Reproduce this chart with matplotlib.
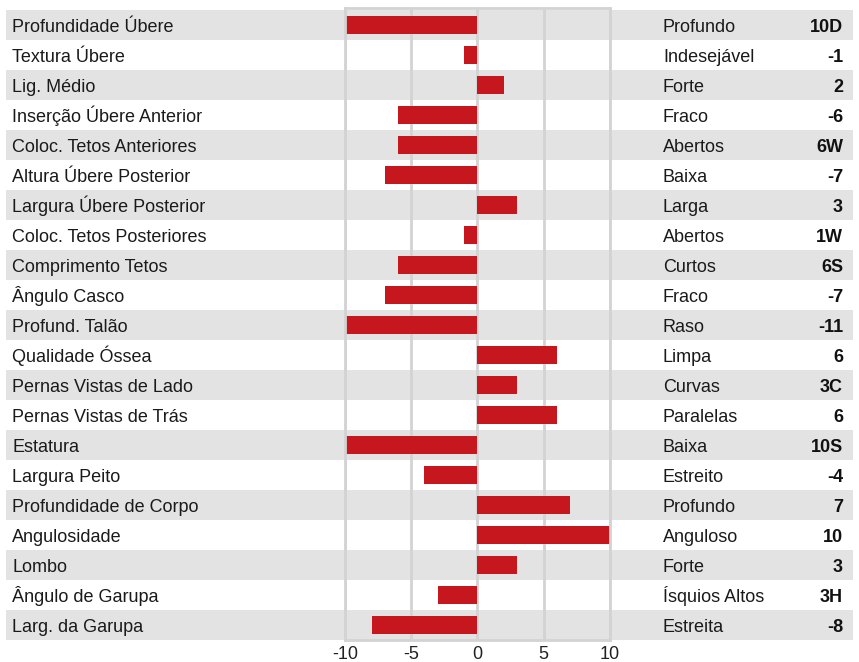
import matplotlib.pyplot as plt
from matplotlib.transforms import blended_transform_factory

plt.rcParams["font.family"] = "Liberation Sans"
plt.rcParams["axes.unicode_minus"] = False

# características lineares
traits = [
    "Profundidade Úbere", "Textura Úbere", "Lig. Médio", "Inserção Úbere Anterior",
    "Coloc. Tetos Anteriores", "Altura Úbere Posterior", "Largura Úbere Posterior",
    "Coloc. Tetos Posteriores", "Comprimento Tetos", "Ângulo Casco", "Profund. Talão",
    "Qualidade Óssea", "Pernas Vistas de Lado", "Pernas Vistas de Trás", "Estatura",
    "Largura Peito", "Profundidade de Corpo", "Angulosidade", "Lombo",
    "Ângulo de Garupa", "Larg. da Garupa",
]
descr = [
    "Profundo", "Indesejável", "Forte", "Fraco", "Abertos", "Baixa", "Larga",
    "Abertos", "Curtos", "Fraco", "Raso", "Limpa", "Curvas", "Paralelas", "Baixa",
    "Estreito", "Profundo", "Anguloso", "Forte", "Ísquios Altos", "Estreita",
]
scores = ["10D", "-1", "2", "-6", "6W", "-7", "3", "1W", "6S", "-7", "-11",
          "6", "3C", "6", "10S", "-4", "7", "10", "3", "3H", "-8"]
# valores das barras (com sinal)
values = [-10, -1, 2, -6, -6, -7, 3, -1, -6, -7, -11,
          6, 3, 6, -10, -4, 7, 10, 3, -3, -8]

W, H = 859, 662
fig = plt.figure(figsize=(W / 100, H / 100), dpi=100)
ax = fig.add_axes([345 / W, 1 - 640 / H, 265 / W, 632 / H])

n = len(traits)
y = list(range(n))

# faixas alternadas
x0 = (6 - 345) / 265
x1 = (853 - 345) / 265
for i in y:
    if i % 2 == 0:
        ax.axhspan(i - 0.5, i + 0.5, xmin=x0, xmax=x1, color="#e3e3e3",
                   lw=0, zorder=0, clip_on=False)

clipped = [max(-10, min(10, v)) for v in values]
ax.barh(y, clipped, height=0.6, color="#c6161e", zorder=2)

ax.set_xlim(-10, 10)
ax.set_ylim(n - 0.5, -0.57)
ax.set_xticks([-10, -5, 0, 5, 10])
ax.set_yticks([])
ax.set_facecolor("none")
ax.grid(axis="x", color="#d3d3d3", lw=2)
ax.set_axisbelow(True)
for s in ax.spines.values():
    s.set_color("#d3d3d3")
    s.set_linewidth(2)
ax.tick_params(axis="x", length=0, pad=4, labelsize=13, labelcolor="#222222")

tr = blended_transform_factory(fig.transFigure, ax.transData)
for i in y:
    yb = i + 0.22
    ax.text(12 / W, yb, traits[i], transform=tr, ha="left",
            va="baseline", fontsize=13, color="#1a1a1a")
    ax.text(663 / W, yb, descr[i], transform=tr, ha="left",
            va="baseline", fontsize=13, color="#1a1a1a")
    ax.text(843 / W, yb, scores[i], transform=tr, ha="right",
            va="baseline", fontsize=13, fontweight="bold", color="#111111")

fig.savefig("out.png", dpi=100)
